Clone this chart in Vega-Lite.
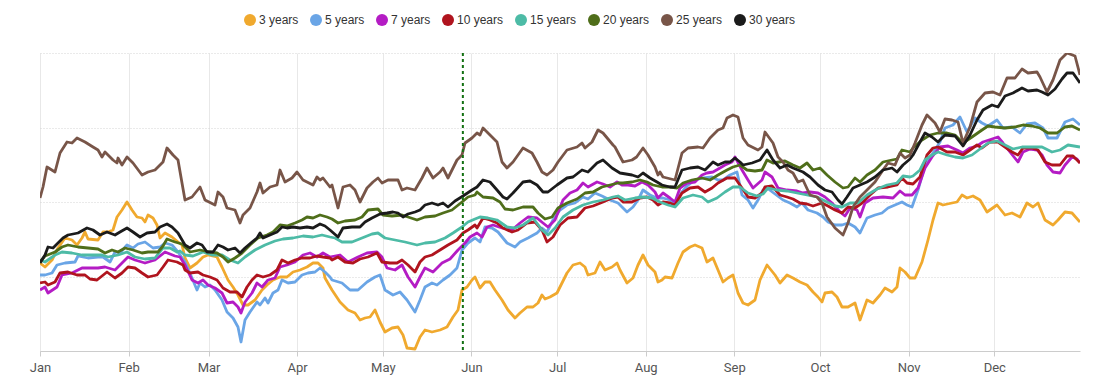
{
"$schema":"https://vega.github.io/schema/vega-lite/v6.json",
"width":1040,"height":298,
"autosize":{"type":"none"},
"padding":{"left":40,"top":53,"right":13,"bottom":40},
"background":"white",
"config":{"view":{"stroke":null}},
"layer":[
{"data":{"values":[
{"s":"3 years","d":0,"v":88},{"s":"3 years","d":1.75,"v":84},{"s":"3 years","d":4.2,"v":91},{"s":"3 years","d":6.3,"v":103},{"s":"3 years","d":8.75,"v":113},{"s":"3 years","d":11.2,"v":111},{"s":"3 years","d":12.95,"v":106},{"s":"3 years","d":14.7,"v":113},{"s":"3 years","d":15.75,"v":119},{"s":"3 years","d":16.8,"v":112},{"s":"3 years","d":20.3,"v":111},{"s":"3 years","d":22.05,"v":119},{"s":"3 years","d":23.8,"v":119},{"s":"3 years","d":25.55,"v":121},{"s":"3 years","d":26.95,"v":134},{"s":"3 years","d":28.7,"v":141},{"s":"3 years","d":30.45,"v":149},{"s":"3 years","d":32.2,"v":141},{"s":"3 years","d":33.95,"v":134},{"s":"3 years","d":35.7,"v":133},{"s":"3 years","d":36.75,"v":129},{"s":"3 years","d":37.8,"v":136},{"s":"3 years","d":39.55,"v":133},{"s":"3 years","d":40.95,"v":126},{"s":"3 years","d":42,"v":113},{"s":"3 years","d":43.75,"v":118},{"s":"3 years","d":46.2,"v":114},{"s":"3 years","d":48.3,"v":109},{"s":"3 years","d":49.7,"v":106},{"s":"3 years","d":50.75,"v":93},{"s":"3 years","d":52.5,"v":83},{"s":"3 years","d":54.95,"v":88},{"s":"3 years","d":57.05,"v":94},{"s":"3 years","d":58.8,"v":96},{"s":"3 years","d":61.95,"v":94},{"s":"3 years","d":63.7,"v":84},{"s":"3 years","d":65.8,"v":71},{"s":"3 years","d":67.55,"v":64},{"s":"3 years","d":69.3,"v":56},{"s":"3 years","d":71.05,"v":46},{"s":"3 years","d":72.8,"v":46},{"s":"3 years","d":75.25,"v":51},{"s":"3 years","d":77.7,"v":61},{"s":"3 years","d":79.45,"v":66},{"s":"3 years","d":81.55,"v":71},{"s":"3 years","d":84,"v":74},{"s":"3 years","d":86.45,"v":74},{"s":"3 years","d":88.55,"v":79},{"s":"3 years","d":91,"v":81},{"s":"3 years","d":93.45,"v":84},{"s":"3 years","d":95.55,"v":88},{"s":"3 years","d":97.3,"v":88},{"s":"3 years","d":99.05,"v":83},{"s":"3 years","d":99.75,"v":73},{"s":"3 years","d":102.2,"v":61},{"s":"3 years","d":105,"v":49},{"s":"3 years","d":107.8,"v":41},{"s":"3 years","d":110.25,"v":38},{"s":"3 years","d":112,"v":31},{"s":"3 years","d":113.75,"v":33},{"s":"3 years","d":115.5,"v":34},{"s":"3 years","d":117.25,"v":41},{"s":"3 years","d":119,"v":29},{"s":"3 years","d":120.75,"v":19},{"s":"3 years","d":123.2,"v":23},{"s":"3 years","d":125.3,"v":24},{"s":"3 years","d":127.05,"v":16},{"s":"3 years","d":128.45,"v":3},{"s":"3 years","d":131.25,"v":2},{"s":"3 years","d":133,"v":14},{"s":"3 years","d":134.75,"v":21},{"s":"3 years","d":137.2,"v":19},{"s":"3 years","d":140,"v":21},{"s":"3 years","d":142.45,"v":24},{"s":"3 years","d":144.55,"v":34},{"s":"3 years","d":146.3,"v":41},{"s":"3 years","d":147.7,"v":61},{"s":"3 years","d":149.45,"v":64},{"s":"3 years","d":151.2,"v":71},{"s":"3 years","d":152.25,"v":74},{"s":"3 years","d":154,"v":63},{"s":"3 years","d":155.75,"v":69},{"s":"3 years","d":157.5,"v":69},{"s":"3 years","d":159.25,"v":61},{"s":"3 years","d":161.7,"v":51},{"s":"3 years","d":163.8,"v":41},{"s":"3 years","d":166.25,"v":33},{"s":"3 years","d":168,"v":38},{"s":"3 years","d":170.45,"v":44},{"s":"3 years","d":172.55,"v":44},{"s":"3 years","d":174.3,"v":48},{"s":"3 years","d":175.7,"v":56},{"s":"3 years","d":176.75,"v":52},{"s":"3 years","d":178.5,"v":54},{"s":"3 years","d":180.95,"v":58},{"s":"3 years","d":182.7,"v":68},{"s":"3 years","d":184.45,"v":78},{"s":"3 years","d":186.55,"v":86},{"s":"3 years","d":189,"v":88},{"s":"3 years","d":190.75,"v":84},{"s":"3 years","d":191.8,"v":76},{"s":"3 years","d":194.25,"v":78},{"s":"3 years","d":196,"v":89},{"s":"3 years","d":197.75,"v":81},{"s":"3 years","d":200.2,"v":84},{"s":"3 years","d":201.95,"v":88},{"s":"3 years","d":203,"v":81},{"s":"3 years","d":205.45,"v":68},{"s":"3 years","d":207.55,"v":73},{"s":"3 years","d":209.3,"v":86},{"s":"3 years","d":211.05,"v":96},{"s":"3 years","d":212.8,"v":86},{"s":"3 years","d":215.25,"v":79},{"s":"3 years","d":216.3,"v":69},{"s":"3 years","d":217.7,"v":71},{"s":"3 years","d":218.75,"v":74},{"s":"3 years","d":221.2,"v":73},{"s":"3 years","d":223.3,"v":88},{"s":"3 years","d":225.05,"v":99},{"s":"3 years","d":227.5,"v":104},{"s":"3 years","d":229.25,"v":106},{"s":"3 years","d":231.7,"v":103},{"s":"3 years","d":233.45,"v":89},{"s":"3 years","d":235.55,"v":93},{"s":"3 years","d":237.3,"v":81},{"s":"3 years","d":239.05,"v":69},{"s":"3 years","d":240.8,"v":73},{"s":"3 years","d":242.55,"v":76},{"s":"3 years","d":244.3,"v":58},{"s":"3 years","d":246.05,"v":48},{"s":"3 years","d":247.8,"v":46},{"s":"3 years","d":250.25,"v":51},{"s":"3 years","d":252,"v":71},{"s":"3 years","d":254.45,"v":86},{"s":"3 years","d":257.25,"v":76},{"s":"3 years","d":259,"v":68},{"s":"3 years","d":261.45,"v":76},{"s":"3 years","d":263.55,"v":73},{"s":"3 years","d":266,"v":69},{"s":"3 years","d":268.45,"v":66},{"s":"3 years","d":270.55,"v":59},{"s":"3 years","d":272.3,"v":54},{"s":"3 years","d":273.7,"v":49},{"s":"3 years","d":274.75,"v":58},{"s":"3 years","d":277.2,"v":59},{"s":"3 years","d":278.95,"v":54},{"s":"3 years","d":280.7,"v":44},{"s":"3 years","d":282.8,"v":44},{"s":"3 years","d":285.25,"v":48},{"s":"3 years","d":287,"v":31},{"s":"3 years","d":289.45,"v":51},{"s":"3 years","d":291.55,"v":48},{"s":"3 years","d":294,"v":56},{"s":"3 years","d":295.75,"v":63},{"s":"3 years","d":298.2,"v":59},{"s":"3 years","d":299.95,"v":64},{"s":"3 years","d":301,"v":83},{"s":"3 years","d":302.75,"v":79},{"s":"3 years","d":304.5,"v":73},{"s":"3 years","d":306.25,"v":73},{"s":"3 years","d":308.7,"v":89},{"s":"3 years","d":310.8,"v":111},{"s":"3 years","d":312.55,"v":131},{"s":"3 years","d":314.3,"v":148},{"s":"3 years","d":316.05,"v":146},{"s":"3 years","d":319.2,"v":148},{"s":"3 years","d":320.95,"v":149},{"s":"3 years","d":322.7,"v":156},{"s":"3 years","d":324.45,"v":153},{"s":"3 years","d":326.55,"v":155},{"s":"3 years","d":329,"v":151},{"s":"3 years","d":331.45,"v":139},{"s":"3 years","d":334.95,"v":146},{"s":"3 years","d":337.75,"v":136},{"s":"3 years","d":340.2,"v":138},{"s":"3 years","d":343,"v":134},{"s":"3 years","d":345.45,"v":148},{"s":"3 years","d":347.55,"v":144},{"s":"3 years","d":349.3,"v":148},{"s":"3 years","d":351.75,"v":131},{"s":"3 years","d":354.55,"v":126},{"s":"3 years","d":356.3,"v":131},{"s":"3 years","d":358.75,"v":139},{"s":"3 years","d":361.2,"v":138},{"s":"3 years","d":364,"v":129},

{"s":"5 years","d":0,"v":76},{"s":"5 years","d":1.75,"v":76},{"s":"5 years","d":4.2,"v":78},{"s":"5 years","d":5.95,"v":86},{"s":"5 years","d":8.75,"v":88},{"s":"5 years","d":12.25,"v":89},{"s":"5 years","d":13.3,"v":95},{"s":"5 years","d":16.8,"v":93},{"s":"5 years","d":20.3,"v":94},{"s":"5 years","d":22.05,"v":94},{"s":"5 years","d":24.5,"v":89},{"s":"5 years","d":26.25,"v":99},{"s":"5 years","d":28,"v":98},{"s":"5 years","d":30.45,"v":106},{"s":"5 years","d":32.55,"v":103},{"s":"5 years","d":34.3,"v":107},{"s":"5 years","d":36.75,"v":109},{"s":"5 years","d":39.55,"v":103},{"s":"5 years","d":42,"v":104},{"s":"5 years","d":43.75,"v":108},{"s":"5 years","d":46.2,"v":106},{"s":"5 years","d":48.3,"v":99},{"s":"5 years","d":50.75,"v":89},{"s":"5 years","d":53.2,"v":73},{"s":"5 years","d":54.95,"v":61},{"s":"5 years","d":56,"v":68},{"s":"5 years","d":57.75,"v":64},{"s":"5 years","d":59.5,"v":66},{"s":"5 years","d":61.25,"v":61},{"s":"5 years","d":63.7,"v":51},{"s":"5 years","d":65.45,"v":39},{"s":"5 years","d":67.55,"v":33},{"s":"5 years","d":69.3,"v":24},{"s":"5 years","d":70.35,"v":9},{"s":"5 years","d":71.75,"v":31},{"s":"5 years","d":73.5,"v":39},{"s":"5 years","d":75.95,"v":49},{"s":"5 years","d":77,"v":46},{"s":"5 years","d":78.75,"v":53},{"s":"5 years","d":79.8,"v":48},{"s":"5 years","d":81.55,"v":58},{"s":"5 years","d":83.3,"v":61},{"s":"5 years","d":84.7,"v":71},{"s":"5 years","d":86.8,"v":68},{"s":"5 years","d":89.25,"v":69},{"s":"5 years","d":91.7,"v":76},{"s":"5 years","d":93.8,"v":78},{"s":"5 years","d":96.25,"v":79},{"s":"5 years","d":98,"v":83},{"s":"5 years","d":99.75,"v":79},{"s":"5 years","d":101.5,"v":74},{"s":"5 years","d":102.2,"v":71},{"s":"5 years","d":105.7,"v":68},{"s":"5 years","d":108.5,"v":61},{"s":"5 years","d":111.3,"v":61},{"s":"5 years","d":114.45,"v":69},{"s":"5 years","d":117.25,"v":74},{"s":"5 years","d":119,"v":76},{"s":"5 years","d":120.75,"v":61},{"s":"5 years","d":123.55,"v":56},{"s":"5 years","d":126,"v":59},{"s":"5 years","d":128.45,"v":51},{"s":"5 years","d":131.25,"v":39},{"s":"5 years","d":133,"v":51},{"s":"5 years","d":134.75,"v":64},{"s":"5 years","d":137.2,"v":68},{"s":"5 years","d":138.95,"v":66},{"s":"5 years","d":141.05,"v":71},{"s":"5 years","d":143.5,"v":76},{"s":"5 years","d":145.95,"v":83},{"s":"5 years","d":147.7,"v":101},{"s":"5 years","d":149.8,"v":108},{"s":"5 years","d":152.25,"v":113},{"s":"5 years","d":154,"v":109},{"s":"5 years","d":155.75,"v":124},{"s":"5 years","d":158.2,"v":123},{"s":"5 years","d":160.3,"v":119},{"s":"5 years","d":163.45,"v":108},{"s":"5 years","d":166.25,"v":104},{"s":"5 years","d":168,"v":109},{"s":"5 years","d":170.8,"v":113},{"s":"5 years","d":173.95,"v":118},{"s":"5 years","d":175.7,"v":123},{"s":"5 years","d":177.45,"v":119},{"s":"5 years","d":179.55,"v":131},{"s":"5 years","d":182,"v":141},{"s":"5 years","d":184.45,"v":146},{"s":"5 years","d":187.25,"v":148},{"s":"5 years","d":190.05,"v":154},{"s":"5 years","d":191.8,"v":152},{"s":"5 years","d":194.25,"v":158},{"s":"5 years","d":196.7,"v":155},{"s":"5 years","d":199.5,"v":151},{"s":"5 years","d":202.3,"v":148},{"s":"5 years","d":205.45,"v":139},{"s":"5 years","d":207.55,"v":144},{"s":"5 years","d":209.3,"v":151},{"s":"5 years","d":211.05,"v":161},{"s":"5 years","d":213.5,"v":156},{"s":"5 years","d":215.95,"v":153},{"s":"5 years","d":218.05,"v":153},{"s":"5 years","d":220.5,"v":151},{"s":"5 years","d":222.25,"v":148},{"s":"5 years","d":224.7,"v":159},{"s":"5 years","d":226.8,"v":166},{"s":"5 years","d":229.25,"v":171},{"s":"5 years","d":232.05,"v":173},{"s":"5 years","d":235.2,"v":174},{"s":"5 years","d":237.3,"v":171},{"s":"5 years","d":239.05,"v":171},{"s":"5 years","d":241.5,"v":176},{"s":"5 years","d":243.95,"v":179},{"s":"5 years","d":245.7,"v":156},{"s":"5 years","d":247.8,"v":151},{"s":"5 years","d":249.55,"v":143},{"s":"5 years","d":251.3,"v":151},{"s":"5 years","d":253.05,"v":161},{"s":"5 years","d":254.45,"v":163},{"s":"5 years","d":257.25,"v":157},{"s":"5 years","d":260.05,"v":151},{"s":"5 years","d":262.5,"v":148},{"s":"5 years","d":264.95,"v":144},{"s":"5 years","d":266.7,"v":148},{"s":"5 years","d":268.8,"v":141},{"s":"5 years","d":271.95,"v":138},{"s":"5 years","d":274.05,"v":134},{"s":"5 years","d":275.8,"v":129},{"s":"5 years","d":278.25,"v":126},{"s":"5 years","d":280.7,"v":126},{"s":"5 years","d":282.8,"v":128},{"s":"5 years","d":285.25,"v":124},{"s":"5 years","d":287,"v":118},{"s":"5 years","d":289.45,"v":133},{"s":"5 years","d":292.25,"v":136},{"s":"5 years","d":294.7,"v":138},{"s":"5 years","d":296.8,"v":143},{"s":"5 years","d":299.25,"v":146},{"s":"5 years","d":301.7,"v":149},{"s":"5 years","d":303.45,"v":146},{"s":"5 years","d":305.2,"v":144},{"s":"5 years","d":307.3,"v":161},{"s":"5 years","d":309.75,"v":186},{"s":"5 years","d":312.55,"v":198},{"s":"5 years","d":315,"v":209},{"s":"5 years","d":316.75,"v":223},{"s":"5 years","d":319.55,"v":226},{"s":"5 years","d":322,"v":234},{"s":"5 years","d":324.45,"v":219},{"s":"5 years","d":327.25,"v":233},{"s":"5 years","d":329.7,"v":228},{"s":"5 years","d":331.8,"v":225},{"s":"5 years","d":334.95,"v":231},{"s":"5 years","d":337.05,"v":223},{"s":"5 years","d":340.2,"v":224},{"s":"5 years","d":343,"v":218},{"s":"5 years","d":345.45,"v":227},{"s":"5 years","d":348.25,"v":228},{"s":"5 years","d":351.05,"v":223},{"s":"5 years","d":352.8,"v":213},{"s":"5 years","d":355.95,"v":213},{"s":"5 years","d":358.75,"v":229},{"s":"5 years","d":361.55,"v":232},{"s":"5 years","d":364,"v":226},

{"s":"7 years","d":0,"v":61},{"s":"7 years","d":1.75,"v":64},{"s":"7 years","d":2.8,"v":58},{"s":"7 years","d":5.95,"v":64},{"s":"7 years","d":7.7,"v":76},{"s":"7 years","d":11.2,"v":78},{"s":"7 years","d":14.7,"v":83},{"s":"7 years","d":18.2,"v":83},{"s":"7 years","d":20.3,"v":83},{"s":"7 years","d":22.75,"v":84},{"s":"7 years","d":26.25,"v":81},{"s":"7 years","d":28,"v":86},{"s":"7 years","d":30.8,"v":94},{"s":"7 years","d":33.25,"v":91},{"s":"7 years","d":36.75,"v":88},{"s":"7 years","d":40.25,"v":91},{"s":"7 years","d":43.75,"v":99},{"s":"7 years","d":47.25,"v":95},{"s":"7 years","d":49,"v":94},{"s":"7 years","d":50.75,"v":86},{"s":"7 years","d":53.2,"v":71},{"s":"7 years","d":55.3,"v":68},{"s":"7 years","d":57.05,"v":71},{"s":"7 years","d":58.8,"v":66},{"s":"7 years","d":61.25,"v":63},{"s":"7 years","d":63.7,"v":58},{"s":"7 years","d":65.45,"v":48},{"s":"7 years","d":67.55,"v":49},{"s":"7 years","d":69.3,"v":44},{"s":"7 years","d":70.35,"v":38},{"s":"7 years","d":71.75,"v":49},{"s":"7 years","d":74.2,"v":58},{"s":"7 years","d":75.95,"v":68},{"s":"7 years","d":77.7,"v":64},{"s":"7 years","d":79.8,"v":71},{"s":"7 years","d":82.25,"v":73},{"s":"7 years","d":84,"v":84},{"s":"7 years","d":86.45,"v":86},{"s":"7 years","d":89.25,"v":89},{"s":"7 years","d":92.05,"v":96},{"s":"7 years","d":94.5,"v":98},{"s":"7 years","d":96.95,"v":94},{"s":"7 years","d":99.05,"v":98},{"s":"7 years","d":101.5,"v":94},{"s":"7 years","d":105,"v":96},{"s":"7 years","d":107.8,"v":89},{"s":"7 years","d":111.3,"v":94},{"s":"7 years","d":114.45,"v":98},{"s":"7 years","d":117.95,"v":99},{"s":"7 years","d":119.7,"v":94},{"s":"7 years","d":121.45,"v":83},{"s":"7 years","d":124.25,"v":81},{"s":"7 years","d":126.7,"v":86},{"s":"7 years","d":128.8,"v":74},{"s":"7 years","d":131.25,"v":64},{"s":"7 years","d":133,"v":74},{"s":"7 years","d":134.75,"v":83},{"s":"7 years","d":137.55,"v":79},{"s":"7 years","d":140.7,"v":88},{"s":"7 years","d":143.5,"v":92},{"s":"7 years","d":146.3,"v":101},{"s":"7 years","d":148.75,"v":108},{"s":"7 years","d":150.5,"v":114},{"s":"7 years","d":152.95,"v":118},{"s":"7 years","d":154.7,"v":114},{"s":"7 years","d":156.45,"v":124},{"s":"7 years","d":158.55,"v":126},{"s":"7 years","d":161.7,"v":123},{"s":"7 years","d":165.2,"v":121},{"s":"7 years","d":168,"v":128},{"s":"7 years","d":170.8,"v":134},{"s":"7 years","d":173.95,"v":133},{"s":"7 years","d":176.05,"v":128},{"s":"7 years","d":177.8,"v":124},{"s":"7 years","d":180.25,"v":131},{"s":"7 years","d":183.05,"v":151},{"s":"7 years","d":185.5,"v":158},{"s":"7 years","d":187.95,"v":161},{"s":"7 years","d":190.05,"v":168},{"s":"7 years","d":191.8,"v":164},{"s":"7 years","d":194.95,"v":169},{"s":"7 years","d":197.05,"v":167},{"s":"7 years","d":199.5,"v":164},{"s":"7 years","d":201.95,"v":169},{"s":"7 years","d":203.7,"v":166},{"s":"7 years","d":205.8,"v":166},{"s":"7 years","d":208.25,"v":165},{"s":"7 years","d":210.7,"v":169},{"s":"7 years","d":212.8,"v":166},{"s":"7 years","d":215.25,"v":159},{"s":"7 years","d":216.3,"v":153},{"s":"7 years","d":218.05,"v":158},{"s":"7 years","d":220.5,"v":153},{"s":"7 years","d":222.25,"v":149},{"s":"7 years","d":224,"v":163},{"s":"7 years","d":226.45,"v":168},{"s":"7 years","d":229.25,"v":169},{"s":"7 years","d":231.7,"v":176},{"s":"7 years","d":233.45,"v":178},{"s":"7 years","d":235.55,"v":179},{"s":"7 years","d":238,"v":183},{"s":"7 years","d":239.75,"v":186},{"s":"7 years","d":242.2,"v":189},{"s":"7 years","d":243.25,"v":194},{"s":"7 years","d":245.7,"v":181},{"s":"7 years","d":247.8,"v":171},{"s":"7 years","d":249.55,"v":163},{"s":"7 years","d":252.7,"v":171},{"s":"7 years","d":253.75,"v":179},{"s":"7 years","d":256.2,"v":174},{"s":"7 years","d":258.3,"v":163},{"s":"7 years","d":261.45,"v":161},{"s":"7 years","d":264.95,"v":160},{"s":"7 years","d":267.05,"v":158},{"s":"7 years","d":269.5,"v":159},{"s":"7 years","d":272.3,"v":158},{"s":"7 years","d":274.75,"v":154},{"s":"7 years","d":277.2,"v":148},{"s":"7 years","d":280,"v":139},{"s":"7 years","d":281.75,"v":135},{"s":"7 years","d":283.5,"v":143},{"s":"7 years","d":285.95,"v":141},{"s":"7 years","d":287,"v":134},{"s":"7 years","d":288.75,"v":148},{"s":"7 years","d":291.55,"v":153},{"s":"7 years","d":295.05,"v":154},{"s":"7 years","d":298.55,"v":153},{"s":"7 years","d":301,"v":160},{"s":"7 years","d":302.75,"v":156},{"s":"7 years","d":305.2,"v":156},{"s":"7 years","d":307.3,"v":163},{"s":"7 years","d":309.75,"v":183},{"s":"7 years","d":312.2,"v":194},{"s":"7 years","d":315,"v":204},{"s":"7 years","d":317.8,"v":205},{"s":"7 years","d":320.95,"v":201},{"s":"7 years","d":323.05,"v":198},{"s":"7 years","d":325.5,"v":203},{"s":"7 years","d":327.95,"v":205},{"s":"7 years","d":330.05,"v":209},{"s":"7 years","d":333.2,"v":212},{"s":"7 years","d":335.3,"v":214},{"s":"7 years","d":337.05,"v":208},{"s":"7 years","d":339.5,"v":199},{"s":"7 years","d":342.3,"v":189},{"s":"7 years","d":344.05,"v":199},{"s":"7 years","d":346.5,"v":202},{"s":"7 years","d":348.95,"v":201},{"s":"7 years","d":350.7,"v":196},{"s":"7 years","d":352.45,"v":186},{"s":"7 years","d":354.55,"v":179},{"s":"7 years","d":357,"v":178},{"s":"7 years","d":358.75,"v":186},{"s":"7 years","d":361.2,"v":194},{"s":"7 years","d":362.95,"v":192},{"s":"7 years","d":364,"v":188},

{"s":"10 years","d":0,"v":68},{"s":"10 years","d":1.75,"v":69},{"s":"10 years","d":2.8,"v":66},{"s":"10 years","d":5.25,"v":69},{"s":"10 years","d":7,"v":78},{"s":"10 years","d":9.8,"v":79},{"s":"10 years","d":12.95,"v":76},{"s":"10 years","d":15.75,"v":76},{"s":"10 years","d":17.5,"v":72},{"s":"10 years","d":19.95,"v":71},{"s":"10 years","d":21.7,"v":75},{"s":"10 years","d":23.45,"v":79},{"s":"10 years","d":26.25,"v":73},{"s":"10 years","d":28.7,"v":78},{"s":"10 years","d":30.8,"v":84},{"s":"10 years","d":33.25,"v":83},{"s":"10 years","d":35.7,"v":78},{"s":"10 years","d":37.8,"v":74},{"s":"10 years","d":40.95,"v":76},{"s":"10 years","d":43.05,"v":84},{"s":"10 years","d":44.8,"v":91},{"s":"10 years","d":47.95,"v":89},{"s":"10 years","d":50.05,"v":86},{"s":"10 years","d":50.75,"v":81},{"s":"10 years","d":52.5,"v":78},{"s":"10 years","d":55.3,"v":79},{"s":"10 years","d":57.05,"v":76},{"s":"10 years","d":59.5,"v":74},{"s":"10 years","d":61.95,"v":71},{"s":"10 years","d":64.05,"v":63},{"s":"10 years","d":66.5,"v":59},{"s":"10 years","d":68.95,"v":59},{"s":"10 years","d":70.7,"v":54},{"s":"10 years","d":72.45,"v":64},{"s":"10 years","d":74.2,"v":71},{"s":"10 years","d":75.95,"v":76},{"s":"10 years","d":78.05,"v":74},{"s":"10 years","d":80.5,"v":76},{"s":"10 years","d":82.95,"v":81},{"s":"10 years","d":84.7,"v":91},{"s":"10 years","d":86.8,"v":88},{"s":"10 years","d":89.25,"v":91},{"s":"10 years","d":91.7,"v":93},{"s":"10 years","d":94.5,"v":93},{"s":"10 years","d":96.95,"v":95},{"s":"10 years","d":99.05,"v":94},{"s":"10 years","d":101.5,"v":93},{"s":"10 years","d":102.2,"v":91},{"s":"10 years","d":104.3,"v":94},{"s":"10 years","d":106.75,"v":89},{"s":"10 years","d":109.55,"v":88},{"s":"10 years","d":112,"v":92},{"s":"10 years","d":114.8,"v":94},{"s":"10 years","d":117.95,"v":98},{"s":"10 years","d":119.7,"v":89},{"s":"10 years","d":122.5,"v":88},{"s":"10 years","d":124.95,"v":88},{"s":"10 years","d":126.7,"v":91},{"s":"10 years","d":128.8,"v":86},{"s":"10 years","d":131.25,"v":79},{"s":"10 years","d":133,"v":89},{"s":"10 years","d":134.75,"v":94},{"s":"10 years","d":137.2,"v":96},{"s":"10 years","d":140,"v":101},{"s":"10 years","d":142.8,"v":106},{"s":"10 years","d":145.95,"v":111},{"s":"10 years","d":148.05,"v":118},{"s":"10 years","d":149.8,"v":121},{"s":"10 years","d":152.25,"v":126},{"s":"10 years","d":152.95,"v":123},{"s":"10 years","d":155.05,"v":133},{"s":"10 years","d":157.5,"v":131},{"s":"10 years","d":159.95,"v":128},{"s":"10 years","d":162.05,"v":123},{"s":"10 years","d":165.2,"v":119},{"s":"10 years","d":167.3,"v":121},{"s":"10 years","d":170.45,"v":128},{"s":"10 years","d":173.25,"v":129},{"s":"10 years","d":175.7,"v":121},{"s":"10 years","d":177.45,"v":109},{"s":"10 years","d":179.55,"v":114},{"s":"10 years","d":182,"v":126},{"s":"10 years","d":184.8,"v":133},{"s":"10 years","d":187.95,"v":134},{"s":"10 years","d":190.75,"v":143},{"s":"10 years","d":193.55,"v":145},{"s":"10 years","d":197.05,"v":149},{"s":"10 years","d":200.2,"v":153},{"s":"10 years","d":202.3,"v":154},{"s":"10 years","d":204.05,"v":149},{"s":"10 years","d":207.2,"v":149},{"s":"10 years","d":210,"v":153},{"s":"10 years","d":212.45,"v":154},{"s":"10 years","d":214.55,"v":151},{"s":"10 years","d":216.3,"v":146},{"s":"10 years","d":218.05,"v":149},{"s":"10 years","d":220.5,"v":148},{"s":"10 years","d":222.25,"v":146},{"s":"10 years","d":224.7,"v":158},{"s":"10 years","d":227.5,"v":163},{"s":"10 years","d":230.3,"v":164},{"s":"10 years","d":232.75,"v":159},{"s":"10 years","d":235.2,"v":163},{"s":"10 years","d":237.3,"v":168},{"s":"10 years","d":240.45,"v":173},{"s":"10 years","d":243.25,"v":173},{"s":"10 years","d":245.7,"v":163},{"s":"10 years","d":247.8,"v":154},{"s":"10 years","d":250.25,"v":153},{"s":"10 years","d":252.7,"v":158},{"s":"10 years","d":253.75,"v":164},{"s":"10 years","d":256.2,"v":165},{"s":"10 years","d":259,"v":156},{"s":"10 years","d":261.45,"v":154},{"s":"10 years","d":263.55,"v":152},{"s":"10 years","d":266,"v":148},{"s":"10 years","d":268.45,"v":147},{"s":"10 years","d":270.55,"v":145},{"s":"10 years","d":273.7,"v":148},{"s":"10 years","d":275.8,"v":145},{"s":"10 years","d":278.25,"v":141},{"s":"10 years","d":280.7,"v":138},{"s":"10 years","d":282.8,"v":144},{"s":"10 years","d":285.25,"v":143},{"s":"10 years","d":287.7,"v":148},{"s":"10 years","d":290.5,"v":156},{"s":"10 years","d":293.3,"v":163},{"s":"10 years","d":296.8,"v":164},{"s":"10 years","d":299.95,"v":166},{"s":"10 years","d":301.7,"v":173},{"s":"10 years","d":303.45,"v":168},{"s":"10 years","d":305.55,"v":167},{"s":"10 years","d":308,"v":174},{"s":"10 years","d":310.45,"v":196},{"s":"10 years","d":312.55,"v":203},{"s":"10 years","d":314.3,"v":204},{"s":"10 years","d":317.45,"v":199},{"s":"10 years","d":320.25,"v":199},{"s":"10 years","d":323.05,"v":196},{"s":"10 years","d":325.5,"v":201},{"s":"10 years","d":327.95,"v":206},{"s":"10 years","d":329.7,"v":203},{"s":"10 years","d":332.5,"v":209},{"s":"10 years","d":335.3,"v":209},{"s":"10 years","d":337.75,"v":204},{"s":"10 years","d":340.2,"v":199},{"s":"10 years","d":342.3,"v":196},{"s":"10 years","d":344.05,"v":203},{"s":"10 years","d":347.2,"v":203},{"s":"10 years","d":349.3,"v":201},{"s":"10 years","d":351.75,"v":189},{"s":"10 years","d":354.2,"v":186},{"s":"10 years","d":357,"v":186},{"s":"10 years","d":359.45,"v":195},{"s":"10 years","d":361.55,"v":195},{"s":"10 years","d":364,"v":188},

{"s":"15 years","d":0,"v":91},{"s":"15 years","d":1.75,"v":89},{"s":"15 years","d":5.25,"v":96},{"s":"15 years","d":7.7,"v":99},{"s":"15 years","d":11.2,"v":98},{"s":"15 years","d":14.7,"v":96},{"s":"15 years","d":18.2,"v":96},{"s":"15 years","d":21.7,"v":96},{"s":"15 years","d":23.8,"v":94},{"s":"15 years","d":27.3,"v":96},{"s":"15 years","d":30.45,"v":99},{"s":"15 years","d":33.25,"v":94},{"s":"15 years","d":36.75,"v":92},{"s":"15 years","d":40.25,"v":93},{"s":"15 years","d":43.05,"v":103},{"s":"15 years","d":45.5,"v":103},{"s":"15 years","d":47.95,"v":99},{"s":"15 years","d":49,"v":100},{"s":"15 years","d":50.75,"v":96},{"s":"15 years","d":53.55,"v":95},{"s":"15 years","d":57.05,"v":99},{"s":"15 years","d":60.2,"v":96},{"s":"15 years","d":63.7,"v":96},{"s":"15 years","d":66.5,"v":91},{"s":"15 years","d":69.3,"v":88},{"s":"15 years","d":71.75,"v":94},{"s":"15 years","d":75.25,"v":101},{"s":"15 years","d":78.75,"v":106},{"s":"15 years","d":82.25,"v":110},{"s":"15 years","d":85.05,"v":112},{"s":"15 years","d":88.55,"v":113},{"s":"15 years","d":92.05,"v":115},{"s":"15 years","d":95.55,"v":114},{"s":"15 years","d":98.7,"v":116},{"s":"15 years","d":101.5,"v":114},{"s":"15 years","d":103.25,"v":113},{"s":"15 years","d":105.7,"v":109},{"s":"15 years","d":109.2,"v":109},{"s":"15 years","d":112.7,"v":113},{"s":"15 years","d":116.2,"v":117},{"s":"15 years","d":118.3,"v":118},{"s":"15 years","d":120.75,"v":113},{"s":"15 years","d":124.25,"v":111},{"s":"15 years","d":127.75,"v":109},{"s":"15 years","d":131.95,"v":106},{"s":"15 years","d":134.75,"v":108},{"s":"15 years","d":138.25,"v":109},{"s":"15 years","d":141.75,"v":113},{"s":"15 years","d":144.55,"v":118},{"s":"15 years","d":147.7,"v":124},{"s":"15 years","d":149.8,"v":129},{"s":"15 years","d":152.25,"v":132},{"s":"15 years","d":154,"v":134},{"s":"15 years","d":156.8,"v":133},{"s":"15 years","d":159.95,"v":131},{"s":"15 years","d":163.45,"v":124},{"s":"15 years","d":166.25,"v":123},{"s":"15 years","d":169.05,"v":126},{"s":"15 years","d":172.55,"v":133},{"s":"15 years","d":175.7,"v":121},{"s":"15 years","d":177.8,"v":116},{"s":"15 years","d":180.25,"v":123},{"s":"15 years","d":183.05,"v":134},{"s":"15 years","d":186.55,"v":141},{"s":"15 years","d":190.05,"v":146},{"s":"15 years","d":193.55,"v":149},{"s":"15 years","d":197.05,"v":151},{"s":"15 years","d":200.55,"v":154},{"s":"15 years","d":202.3,"v":155},{"s":"15 years","d":204.75,"v":151},{"s":"15 years","d":208.25,"v":153},{"s":"15 years","d":211.05,"v":154},{"s":"15 years","d":214.2,"v":153},{"s":"15 years","d":217,"v":149},{"s":"15 years","d":219.8,"v":146},{"s":"15 years","d":222.25,"v":144},{"s":"15 years","d":225.05,"v":153},{"s":"15 years","d":228.55,"v":156},{"s":"15 years","d":231.7,"v":154},{"s":"15 years","d":233.8,"v":149},{"s":"15 years","d":236.95,"v":153},{"s":"15 years","d":239.75,"v":159},{"s":"15 years","d":242.55,"v":164},{"s":"15 years","d":245,"v":164},{"s":"15 years","d":247.8,"v":158},{"s":"15 years","d":250.95,"v":155},{"s":"15 years","d":253.05,"v":157},{"s":"15 years","d":254.8,"v":163},{"s":"15 years","d":257.95,"v":161},{"s":"15 years","d":261.45,"v":160},{"s":"15 years","d":264.95,"v":158},{"s":"15 years","d":268.45,"v":156},{"s":"15 years","d":271.95,"v":154},{"s":"15 years","d":275.45,"v":149},{"s":"15 years","d":278.25,"v":145},{"s":"15 years","d":280.7,"v":144},{"s":"15 years","d":283.5,"v":148},{"s":"15 years","d":286.3,"v":148},{"s":"15 years","d":289.45,"v":156},{"s":"15 years","d":292.95,"v":162},{"s":"15 years","d":296.45,"v":166},{"s":"15 years","d":299.95,"v":168},{"s":"15 years","d":302.05,"v":175},{"s":"15 years","d":304.5,"v":174},{"s":"15 years","d":305.55,"v":175},{"s":"15 years","d":308,"v":181},{"s":"15 years","d":309.75,"v":191},{"s":"15 years","d":312.2,"v":196},{"s":"15 years","d":314.3,"v":199},{"s":"15 years","d":317.45,"v":196},{"s":"15 years","d":320.25,"v":194},{"s":"15 years","d":323.05,"v":193},{"s":"15 years","d":326.2,"v":196},{"s":"15 years","d":329,"v":202},{"s":"15 years","d":331.8,"v":208},{"s":"15 years","d":334.95,"v":210},{"s":"15 years","d":337.75,"v":206},{"s":"15 years","d":340.55,"v":202},{"s":"15 years","d":343.7,"v":204},{"s":"15 years","d":347.2,"v":204},{"s":"15 years","d":350.7,"v":204},{"s":"15 years","d":354.2,"v":199},{"s":"15 years","d":357,"v":201},{"s":"15 years","d":359.8,"v":206},{"s":"15 years","d":364,"v":204},

{"s":"20 years","d":0,"v":89},{"s":"20 years","d":1.75,"v":95},{"s":"20 years","d":5.25,"v":99},{"s":"20 years","d":7.7,"v":104},{"s":"20 years","d":9.8,"v":106},{"s":"20 years","d":13.3,"v":104},{"s":"20 years","d":16.8,"v":103},{"s":"20 years","d":20.3,"v":102},{"s":"20 years","d":22.75,"v":98},{"s":"20 years","d":25.2,"v":101},{"s":"20 years","d":27.3,"v":99},{"s":"20 years","d":29.75,"v":103},{"s":"20 years","d":32.55,"v":101},{"s":"20 years","d":35.7,"v":98},{"s":"20 years","d":37.8,"v":99},{"s":"20 years","d":41.3,"v":99},{"s":"20 years","d":43.05,"v":105},{"s":"20 years","d":44.45,"v":112},{"s":"20 years","d":47.25,"v":109},{"s":"20 years","d":49.7,"v":107},{"s":"20 years","d":50.75,"v":104},{"s":"20 years","d":52.5,"v":99},{"s":"20 years","d":56,"v":101},{"s":"20 years","d":59.5,"v":99},{"s":"20 years","d":61.95,"v":98},{"s":"20 years","d":64.05,"v":94},{"s":"20 years","d":65.8,"v":89},{"s":"20 years","d":68.25,"v":93},{"s":"20 years","d":70.7,"v":98},{"s":"20 years","d":73.5,"v":106},{"s":"20 years","d":76.3,"v":113},{"s":"20 years","d":79.45,"v":116},{"s":"20 years","d":81.55,"v":119},{"s":"20 years","d":84,"v":126},{"s":"20 years","d":86.45,"v":125},{"s":"20 years","d":89.25,"v":128},{"s":"20 years","d":91.7,"v":131},{"s":"20 years","d":93.45,"v":134},{"s":"20 years","d":95.55,"v":133},{"s":"20 years","d":98,"v":136},{"s":"20 years","d":100.45,"v":134},{"s":"20 years","d":102.2,"v":132},{"s":"20 years","d":104.3,"v":128},{"s":"20 years","d":106.75,"v":130},{"s":"20 years","d":110.25,"v":131},{"s":"20 years","d":112.7,"v":134},{"s":"20 years","d":114.8,"v":141},{"s":"20 years","d":118.3,"v":142},{"s":"20 years","d":120.05,"v":136},{"s":"20 years","d":123.2,"v":135},{"s":"20 years","d":126.7,"v":136},{"s":"20 years","d":128.8,"v":134},{"s":"20 years","d":131.95,"v":131},{"s":"20 years","d":134.75,"v":134},{"s":"20 years","d":138.25,"v":135},{"s":"20 years","d":141.05,"v":138},{"s":"20 years","d":144.2,"v":141},{"s":"20 years","d":147.7,"v":149},{"s":"20 years","d":149.8,"v":154},{"s":"20 years","d":152.25,"v":156},{"s":"20 years","d":152.95,"v":159},{"s":"20 years","d":155.05,"v":154},{"s":"20 years","d":158.55,"v":153},{"s":"20 years","d":161,"v":149},{"s":"20 years","d":162.75,"v":142},{"s":"20 years","d":165.55,"v":141},{"s":"20 years","d":169.05,"v":144},{"s":"20 years","d":172.55,"v":144},{"s":"20 years","d":174.3,"v":138},{"s":"20 years","d":176.75,"v":132},{"s":"20 years","d":179.2,"v":134},{"s":"20 years","d":181.3,"v":143},{"s":"20 years","d":184.45,"v":148},{"s":"20 years","d":187.95,"v":152},{"s":"20 years","d":190.75,"v":158},{"s":"20 years","d":193.55,"v":159},{"s":"20 years","d":196.7,"v":164},{"s":"20 years","d":199.5,"v":166},{"s":"20 years","d":202.3,"v":168},{"s":"20 years","d":204.05,"v":168},{"s":"20 years","d":207.2,"v":169},{"s":"20 years","d":210,"v":171},{"s":"20 years","d":212.45,"v":169},{"s":"20 years","d":214.55,"v":166},{"s":"20 years","d":217.7,"v":164},{"s":"20 years","d":220.5,"v":164},{"s":"20 years","d":222.95,"v":163},{"s":"20 years","d":225.05,"v":168},{"s":"20 years","d":228.2,"v":171},{"s":"20 years","d":231.7,"v":173},{"s":"20 years","d":234.5,"v":171},{"s":"20 years","d":237.3,"v":176},{"s":"20 years","d":240.45,"v":181},{"s":"20 years","d":242.55,"v":184},{"s":"20 years","d":245,"v":186},{"s":"20 years","d":247.45,"v":181},{"s":"20 years","d":250.25,"v":180},{"s":"20 years","d":252.7,"v":181},{"s":"20 years","d":254.45,"v":191},{"s":"20 years","d":256.55,"v":188},{"s":"20 years","d":260.75,"v":190},{"s":"20 years","d":263.55,"v":186},{"s":"20 years","d":266,"v":183},{"s":"20 years","d":268.45,"v":188},{"s":"20 years","d":270.55,"v":181},{"s":"20 years","d":273,"v":183},{"s":"20 years","d":275.45,"v":176},{"s":"20 years","d":278.25,"v":169},{"s":"20 years","d":281.05,"v":163},{"s":"20 years","d":282.8,"v":164},{"s":"20 years","d":285.25,"v":173},{"s":"20 years","d":287,"v":169},{"s":"20 years","d":289.45,"v":176},{"s":"20 years","d":292.25,"v":181},{"s":"20 years","d":295.05,"v":189},{"s":"20 years","d":298.2,"v":191},{"s":"20 years","d":299.95,"v":192},{"s":"20 years","d":301.7,"v":201},{"s":"20 years","d":304.5,"v":199},{"s":"20 years","d":305.55,"v":203},{"s":"20 years","d":308.7,"v":211},{"s":"20 years","d":311.5,"v":216},{"s":"20 years","d":314.3,"v":218},{"s":"20 years","d":317.45,"v":218},{"s":"20 years","d":320.25,"v":216},{"s":"20 years","d":323.05,"v":208},{"s":"20 years","d":326.2,"v":214},{"s":"20 years","d":329.7,"v":221},{"s":"20 years","d":331.8,"v":225},{"s":"20 years","d":334.25,"v":224},{"s":"20 years","d":337.75,"v":223},{"s":"20 years","d":341.25,"v":224},{"s":"20 years","d":344.05,"v":226},{"s":"20 years","d":347.2,"v":225},{"s":"20 years","d":350,"v":223},{"s":"20 years","d":352.8,"v":218},{"s":"20 years","d":355.95,"v":218},{"s":"20 years","d":358.75,"v":224},{"s":"20 years","d":361.2,"v":225},{"s":"20 years","d":364,"v":221},

{"s":"25 years","d":0,"v":153},{"s":"25 years","d":1.05,"v":164},{"s":"25 years","d":2.45,"v":184},{"s":"25 years","d":5.25,"v":179},{"s":"25 years","d":7,"v":198},{"s":"25 years","d":9.45,"v":209},{"s":"25 years","d":11.2,"v":208},{"s":"25 years","d":12.95,"v":213},{"s":"25 years","d":15.75,"v":209},{"s":"25 years","d":18.55,"v":204},{"s":"25 years","d":20.3,"v":201},{"s":"25 years","d":21.7,"v":194},{"s":"25 years","d":22.75,"v":199},{"s":"25 years","d":25.55,"v":191},{"s":"25 years","d":26.95,"v":188},{"s":"25 years","d":27.3,"v":193},{"s":"25 years","d":28.7,"v":186},{"s":"25 years","d":30.45,"v":194},{"s":"25 years","d":32.55,"v":188},{"s":"25 years","d":35.7,"v":176},{"s":"25 years","d":37.8,"v":179},{"s":"25 years","d":40.25,"v":181},{"s":"25 years","d":43.05,"v":189},{"s":"25 years","d":44.45,"v":203},{"s":"25 years","d":46.55,"v":196},{"s":"25 years","d":48.3,"v":191},{"s":"25 years","d":49.7,"v":168},{"s":"25 years","d":50.75,"v":151},{"s":"25 years","d":53.2,"v":154},{"s":"25 years","d":56,"v":164},{"s":"25 years","d":57.75,"v":151},{"s":"25 years","d":61.25,"v":146},{"s":"25 years","d":62.3,"v":159},{"s":"25 years","d":64.05,"v":154},{"s":"25 years","d":65.45,"v":143},{"s":"25 years","d":68.25,"v":141},{"s":"25 years","d":70,"v":128},{"s":"25 years","d":71.05,"v":136},{"s":"25 years","d":73.5,"v":143},{"s":"25 years","d":75.95,"v":159},{"s":"25 years","d":77,"v":168},{"s":"25 years","d":78.05,"v":158},{"s":"25 years","d":80.5,"v":164},{"s":"25 years","d":82.95,"v":166},{"s":"25 years","d":84,"v":181},{"s":"25 years","d":85.75,"v":169},{"s":"25 years","d":88.2,"v":173},{"s":"25 years","d":89.95,"v":179},{"s":"25 years","d":92.05,"v":171},{"s":"25 years","d":95.55,"v":166},{"s":"25 years","d":96.95,"v":174},{"s":"25 years","d":98,"v":171},{"s":"25 years","d":99.05,"v":173},{"s":"25 years","d":101.5,"v":164},{"s":"25 years","d":102.2,"v":166},{"s":"25 years","d":104.3,"v":143},{"s":"25 years","d":106.05,"v":164},{"s":"25 years","d":108.5,"v":166},{"s":"25 years","d":110.25,"v":161},{"s":"25 years","d":112,"v":149},{"s":"25 years","d":114.45,"v":163},{"s":"25 years","d":116.55,"v":169},{"s":"25 years","d":118.3,"v":173},{"s":"25 years","d":119.7,"v":168},{"s":"25 years","d":121.8,"v":171},{"s":"25 years","d":125.3,"v":171},{"s":"25 years","d":126.7,"v":161},{"s":"25 years","d":128.45,"v":163},{"s":"25 years","d":131.25,"v":161},{"s":"25 years","d":133.7,"v":173},{"s":"25 years","d":135.45,"v":183},{"s":"25 years","d":137.55,"v":173},{"s":"25 years","d":140,"v":179},{"s":"25 years","d":141.05,"v":183},{"s":"25 years","d":142.8,"v":173},{"s":"25 years","d":145.95,"v":191},{"s":"25 years","d":147.7,"v":196},{"s":"25 years","d":148.75,"v":208},{"s":"25 years","d":151.2,"v":213},{"s":"25 years","d":152.95,"v":218},{"s":"25 years","d":154,"v":216},{"s":"25 years","d":155.05,"v":223},{"s":"25 years","d":157.5,"v":216},{"s":"25 years","d":159.95,"v":209},{"s":"25 years","d":161.7,"v":189},{"s":"25 years","d":163.45,"v":183},{"s":"25 years","d":165.55,"v":189},{"s":"25 years","d":169.05,"v":203},{"s":"25 years","d":172.2,"v":198},{"s":"25 years","d":173.95,"v":189},{"s":"25 years","d":175.7,"v":179},{"s":"25 years","d":177.45,"v":176},{"s":"25 years","d":179.55,"v":181},{"s":"25 years","d":181.3,"v":189},{"s":"25 years","d":184.45,"v":201},{"s":"25 years","d":187.95,"v":204},{"s":"25 years","d":189.7,"v":208},{"s":"25 years","d":190.75,"v":203},{"s":"25 years","d":193.2,"v":209},{"s":"25 years","d":195.3,"v":221},{"s":"25 years","d":197.05,"v":218},{"s":"25 years","d":200.55,"v":206},{"s":"25 years","d":201.25,"v":204},{"s":"25 years","d":204.05,"v":189},{"s":"25 years","d":207.2,"v":191},{"s":"25 years","d":208.8,"v":194},{"s":"25 years","d":211.05,"v":203},{"s":"25 years","d":212.8,"v":196},{"s":"25 years","d":215.25,"v":184},{"s":"25 years","d":216.3,"v":176},{"s":"25 years","d":217,"v":179},{"s":"25 years","d":218.05,"v":174},{"s":"25 years","d":222.25,"v":171},{"s":"25 years","d":224.7,"v":198},{"s":"25 years","d":226.8,"v":203},{"s":"25 years","d":230.3,"v":204},{"s":"25 years","d":232.05,"v":203},{"s":"25 years","d":234.5,"v":213},{"s":"25 years","d":237.3,"v":221},{"s":"25 years","d":239.05,"v":223},{"s":"25 years","d":240.45,"v":233},{"s":"25 years","d":242.55,"v":236},{"s":"25 years","d":244.3,"v":234},{"s":"25 years","d":246.05,"v":213},{"s":"25 years","d":247.8,"v":206},{"s":"25 years","d":251.3,"v":201},{"s":"25 years","d":252.7,"v":204},{"s":"25 years","d":253.75,"v":219},{"s":"25 years","d":256.55,"v":208},{"s":"25 years","d":258.3,"v":194},{"s":"25 years","d":260.05,"v":189},{"s":"25 years","d":261.8,"v":181},{"s":"25 years","d":263.55,"v":178},{"s":"25 years","d":265.3,"v":169},{"s":"25 years","d":267.05,"v":171},{"s":"25 years","d":269.5,"v":156},{"s":"25 years","d":271.95,"v":154},{"s":"25 years","d":273.7,"v":148},{"s":"25 years","d":275.45,"v":134},{"s":"25 years","d":278.25,"v":123},{"s":"25 years","d":281.05,"v":116},{"s":"25 years","d":282.8,"v":128},{"s":"25 years","d":284.55,"v":144},{"s":"25 years","d":287,"v":154},{"s":"25 years","d":289.45,"v":161},{"s":"25 years","d":292.25,"v":169},{"s":"25 years","d":295.05,"v":181},{"s":"25 years","d":296.8,"v":188},{"s":"25 years","d":299.25,"v":186},{"s":"25 years","d":301,"v":198},{"s":"25 years","d":302.75,"v":193},{"s":"25 years","d":304.5,"v":196},{"s":"25 years","d":306.25,"v":208},{"s":"25 years","d":308.7,"v":226},{"s":"25 years","d":310.45,"v":236},{"s":"25 years","d":313.25,"v":228},{"s":"25 years","d":315,"v":219},{"s":"25 years","d":316.75,"v":232},{"s":"25 years","d":319.2,"v":231},{"s":"25 years","d":321.3,"v":229},{"s":"25 years","d":323.05,"v":208},{"s":"25 years","d":325.5,"v":224},{"s":"25 years","d":327.95,"v":249},{"s":"25 years","d":330.75,"v":258},{"s":"25 years","d":333.55,"v":259},{"s":"25 years","d":336,"v":256},{"s":"25 years","d":338.45,"v":273},{"s":"25 years","d":341.25,"v":273},{"s":"25 years","d":343.7,"v":282},{"s":"25 years","d":345.8,"v":278},{"s":"25 years","d":348.95,"v":279},{"s":"25 years","d":350,"v":274},{"s":"25 years","d":352.45,"v":259},{"s":"25 years","d":354.55,"v":271},{"s":"25 years","d":357,"v":291},{"s":"25 years","d":359.45,"v":298},{"s":"25 years","d":362.25,"v":295},{"s":"25 years","d":364,"v":276},

{"s":"30 years","d":0,"v":88},{"s":"30 years","d":1.75,"v":96},{"s":"30 years","d":2.8,"v":104},{"s":"30 years","d":4.55,"v":103},{"s":"30 years","d":6.3,"v":108},{"s":"30 years","d":8.05,"v":113},{"s":"30 years","d":9.8,"v":116},{"s":"30 years","d":13.3,"v":118},{"s":"30 years","d":16.45,"v":123},{"s":"30 years","d":18.55,"v":121},{"s":"30 years","d":21,"v":116},{"s":"30 years","d":23.45,"v":119},{"s":"30 years","d":26.25,"v":116},{"s":"30 years","d":28,"v":119},{"s":"30 years","d":30.45,"v":123},{"s":"30 years","d":32.55,"v":119},{"s":"30 years","d":35,"v":114},{"s":"30 years","d":37.45,"v":118},{"s":"30 years","d":40.25,"v":119},{"s":"30 years","d":42,"v":124},{"s":"30 years","d":44.45,"v":127},{"s":"30 years","d":46.2,"v":124},{"s":"30 years","d":48.3,"v":118},{"s":"30 years","d":50.75,"v":106},{"s":"30 years","d":52.5,"v":103},{"s":"30 years","d":54.95,"v":108},{"s":"30 years","d":56.7,"v":106},{"s":"30 years","d":58.45,"v":99},{"s":"30 years","d":60.55,"v":99},{"s":"30 years","d":62.3,"v":106},{"s":"30 years","d":64.05,"v":104},{"s":"30 years","d":65.8,"v":101},{"s":"30 years","d":68.25,"v":103},{"s":"30 years","d":70,"v":98},{"s":"30 years","d":71.75,"v":103},{"s":"30 years","d":74.2,"v":109},{"s":"30 years","d":75.95,"v":113},{"s":"30 years","d":77,"v":118},{"s":"30 years","d":78.05,"v":113},{"s":"30 years","d":80.5,"v":116},{"s":"30 years","d":82.95,"v":119},{"s":"30 years","d":84.7,"v":124},{"s":"30 years","d":86.45,"v":123},{"s":"30 years","d":88.55,"v":124},{"s":"30 years","d":91,"v":123},{"s":"30 years","d":93.45,"v":124},{"s":"30 years","d":95.55,"v":123},{"s":"30 years","d":98,"v":127},{"s":"30 years","d":99.75,"v":125},{"s":"30 years","d":101.5,"v":121},{"s":"30 years","d":104.3,"v":114},{"s":"30 years","d":106.05,"v":123},{"s":"30 years","d":109.2,"v":124},{"s":"30 years","d":112,"v":124},{"s":"30 years","d":113.75,"v":129},{"s":"30 years","d":116.2,"v":133},{"s":"30 years","d":119,"v":137},{"s":"30 years","d":121.45,"v":138},{"s":"30 years","d":123.55,"v":139},{"s":"30 years","d":125.3,"v":138},{"s":"30 years","d":127.05,"v":134},{"s":"30 years","d":128.8,"v":137},{"s":"30 years","d":131.25,"v":139},{"s":"30 years","d":133,"v":141},{"s":"30 years","d":134.75,"v":146},{"s":"30 years","d":137.2,"v":148},{"s":"30 years","d":139.3,"v":146},{"s":"30 years","d":141.05,"v":148},{"s":"30 years","d":142.8,"v":144},{"s":"30 years","d":145.25,"v":150},{"s":"30 years","d":148.05,"v":155},{"s":"30 years","d":151.2,"v":161},{"s":"30 years","d":152.95,"v":164},{"s":"30 years","d":155.05,"v":171},{"s":"30 years","d":157.5,"v":169},{"s":"30 years","d":159.95,"v":161},{"s":"30 years","d":162.05,"v":154},{"s":"30 years","d":163.45,"v":152},{"s":"30 years","d":165.55,"v":158},{"s":"30 years","d":169.05,"v":169},{"s":"30 years","d":171.5,"v":170},{"s":"30 years","d":173.95,"v":166},{"s":"30 years","d":176.05,"v":159},{"s":"30 years","d":177.8,"v":159},{"s":"30 years","d":180.95,"v":166},{"s":"30 years","d":184.45,"v":173},{"s":"30 years","d":186.55,"v":174},{"s":"30 years","d":189.7,"v":181},{"s":"30 years","d":191.8,"v":179},{"s":"30 years","d":194.95,"v":188},{"s":"30 years","d":197.05,"v":191},{"s":"30 years","d":200.2,"v":183},{"s":"30 years","d":203,"v":178},{"s":"30 years","d":207.2,"v":176},{"s":"30 years","d":209.3,"v":174},{"s":"30 years","d":211.05,"v":178},{"s":"30 years","d":213.5,"v":173},{"s":"30 years","d":215.95,"v":169},{"s":"30 years","d":217.7,"v":166},{"s":"30 years","d":220.5,"v":164},{"s":"30 years","d":222.25,"v":164},{"s":"30 years","d":224.7,"v":181},{"s":"30 years","d":227.5,"v":183},{"s":"30 years","d":230.3,"v":184},{"s":"30 years","d":232.75,"v":181},{"s":"30 years","d":235.55,"v":189},{"s":"30 years","d":237.3,"v":186},{"s":"30 years","d":239.75,"v":189},{"s":"30 years","d":241.5,"v":189},{"s":"30 years","d":243.25,"v":193},{"s":"30 years","d":245,"v":189},{"s":"30 years","d":246.05,"v":186},{"s":"30 years","d":249.2,"v":188},{"s":"30 years","d":252,"v":191},{"s":"30 years","d":254.45,"v":201},{"s":"30 years","d":256.55,"v":191},{"s":"30 years","d":259,"v":183},{"s":"30 years","d":261.45,"v":186},{"s":"30 years","d":263.55,"v":183},{"s":"30 years","d":267.05,"v":179},{"s":"30 years","d":269.5,"v":174},{"s":"30 years","d":272.3,"v":166},{"s":"30 years","d":274.75,"v":161},{"s":"30 years","d":277.2,"v":159},{"s":"30 years","d":279.3,"v":151},{"s":"30 years","d":280.7,"v":147},{"s":"30 years","d":282.45,"v":154},{"s":"30 years","d":284.55,"v":163},{"s":"30 years","d":287,"v":166},{"s":"30 years","d":289.45,"v":169},{"s":"30 years","d":292.25,"v":174},{"s":"30 years","d":295.05,"v":181},{"s":"30 years","d":298.2,"v":183},{"s":"30 years","d":299.95,"v":179},{"s":"30 years","d":302.05,"v":186},{"s":"30 years","d":304.5,"v":192},{"s":"30 years","d":305.55,"v":196},{"s":"30 years","d":308,"v":209},{"s":"30 years","d":309.75,"v":218},{"s":"30 years","d":312.2,"v":214},{"s":"30 years","d":314.3,"v":209},{"s":"30 years","d":316.75,"v":216},{"s":"30 years","d":320.25,"v":215},{"s":"30 years","d":323.05,"v":205},{"s":"30 years","d":325.5,"v":216},{"s":"30 years","d":327.95,"v":231},{"s":"30 years","d":330.05,"v":241},{"s":"30 years","d":333.2,"v":246},{"s":"30 years","d":335.3,"v":244},{"s":"30 years","d":337.75,"v":255},{"s":"30 years","d":340.55,"v":258},{"s":"30 years","d":343.7,"v":263},{"s":"30 years","d":345.8,"v":260},{"s":"30 years","d":348.95,"v":261},{"s":"30 years","d":350.7,"v":259},{"s":"30 years","d":352.8,"v":256},{"s":"30 years","d":355.25,"v":262},{"s":"30 years","d":357.7,"v":272},{"s":"30 years","d":359.45,"v":278},{"s":"30 years","d":361.55,"v":278},{"s":"30 years","d":364,"v":268}
]},
"mark":{"type":"line","strokeWidth":2.8,"strokeJoin":"round","clip":true},
"encoding":{
"x":{"field":"d","type":"quantitative","scale":{"domain":[0,364],"nice":false,"zero":false},
"axis":{"values":[0,31,59,90,120,151,181,212,243,273,304,334],"labelExpr":"['Jan','Feb','Mar','Apr','May','Jun','Jul','Aug','Sep','Oct','Nov','Dec'][indexof([0,31,59,90,120,151,181,212,243,273,304,334], datum.value)]","title":null,"grid":true,"gridColor":"#e8e8e8","gridWidth":1,"domainColor":"#cccccc","tickColor":"#cccccc","tickSize":5,"labelPadding":5,"labelFontSize":13,"labelFont":"Roboto","labelColor":"#555555","labelFlush":false,"labelOverlap":false}},
"y":{"field":"v","type":"quantitative","scale":{"domain":[0,298],"nice":false,"zero":false},
"axis":{"values":[0,74.5,149,223.5,298],"labels":false,"ticks":false,"domain":false,"title":null,"grid":true,"gridColor":"#d5d5d5","gridDash":[1,2],"gridWidth":1}},
"color":{"field":"s","type":"nominal","sort":["3 years","5 years","7 years","10 years","15 years","20 years","25 years","30 years"],
"scale":{"domain":["3 years","5 years","7 years","10 years","15 years","20 years","25 years","30 years"],"range":["#f0a92e","#6aa5e6","#b41cc4","#b0141e","#4dbba6","#4f6e1a","#785548","#1b1b1b"]},
"legend":{"orient":"none","legendX":204,"legendY":-39,"direction":"horizontal","columns":8,"title":null,"symbolType":"circle","symbolSize":144,"symbolStrokeWidth":0,"labelFontSize":12,"labelFont":"Liberation Sans","labelColor":"#333333","columnPadding":11,"labelOffset":3,"padding":0,
"encode":{"symbols":{"update":{"fill":{"scale":"color","field":"value"},"fillOpacity":{"value":1},"strokeWidth":{"value":0}}}}}}
}},
{"data":{"values":[{"d":148}]},
"mark":{"type":"rule","color":"#137012","strokeWidth":2,"strokeDash":[3,3]},
"encoding":{"x":{"field":"d","type":"quantitative"}}}
]
}
